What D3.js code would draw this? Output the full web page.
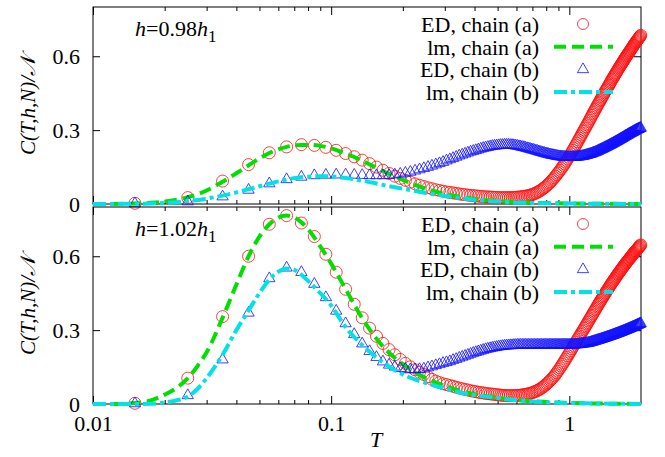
<!DOCTYPE html>
<html>
<head>
<meta charset="utf-8">
<script src="https://cdn.jsdelivr.net/npm/d3@7"></script>
<style>
body { margin: 0; background: #fff; }
</style>
</head>
<body>
<script>
const d3 = window.d3;

// temperatures of the ED points (step 0.01)
const tED = [
    0.015, 0.025, 0.035, 0.045, 0.055, 0.065, 0.075, 0.085, 0.095, 0.105,
    0.115, 0.125, 0.135, 0.145, 0.155, 0.165, 0.175, 0.185, 0.195, 0.205,
    0.215, 0.225, 0.235, 0.245, 0.255, 0.265, 0.275, 0.285, 0.295, 0.305,
    0.315, 0.325, 0.335, 0.345, 0.355, 0.365, 0.375, 0.385, 0.395, 0.405,
    0.415, 0.425, 0.435, 0.445, 0.455, 0.465, 0.475, 0.485, 0.495, 0.505,
    0.515, 0.525, 0.535, 0.545, 0.555, 0.565, 0.575, 0.585, 0.595, 0.605,
    0.615, 0.625, 0.635, 0.645, 0.655, 0.665, 0.675, 0.685, 0.695, 0.705,
    0.715, 0.725, 0.735, 0.745, 0.755, 0.765, 0.775, 0.785, 0.795, 0.805,
    0.815, 0.825, 0.835, 0.845, 0.855, 0.865, 0.875, 0.885, 0.895, 0.905,
    0.915, 0.925, 0.935, 0.945, 0.955, 0.965, 0.975, 0.985, 0.995, 1.005,
    1.015, 1.025, 1.035, 1.045, 1.055, 1.065, 1.075, 1.085, 1.095, 1.105,
    1.115, 1.125, 1.135, 1.145, 1.155, 1.165, 1.175, 1.185, 1.195, 1.205,
    1.215, 1.225, 1.235, 1.245, 1.255, 1.265, 1.275, 1.285, 1.295, 1.305,
    1.315, 1.325, 1.335, 1.345, 1.355, 1.365, 1.375, 1.385, 1.395, 1.405,
    1.415, 1.425, 1.435, 1.445, 1.455, 1.465, 1.475, 1.485, 1.495, 1.505,
    1.515, 1.525, 1.535, 1.545, 1.555, 1.565, 1.575, 1.585, 1.595, 1.605,
    1.615, 1.625, 1.635, 1.645, 1.655, 1.665, 1.675, 1.685, 1.695, 1.705,
    1.715, 1.725, 1.735, 1.745, 1.755, 1.765, 1.775, 1.785, 1.795, 1.805,
    1.815, 1.825, 1.835, 1.845, 1.855, 1.865, 1.875, 1.885, 1.895, 1.905,
    1.915, 1.925, 1.935, 1.945, 1.955, 1.965, 1.975, 1.985, 1.995
];

// h = 0.98 h1, ED chain (a)
const edA098 = [
    0.003, 0.026, 0.093, 0.16, 0.208, 0.232, 0.241, 0.238, 0.23, 0.218,
    0.205, 0.192, 0.178, 0.164, 0.15, 0.137, 0.124, 0.113, 0.104, 0.096,
    0.089, 0.082, 0.076, 0.071, 0.066, 0.062, 0.058, 0.055, 0.052,
    0.049, 0.047, 0.045, 0.043, 0.041, 0.039, 0.038, 0.036, 0.035, 0.034,
    0.033, 0.032, 0.031, 0.03, 0.029, 0.029, 0.028, 0.028, 0.027, 0.027,
    0.026, 0.026, 0.026, 0.026, 0.026, 0.026, 0.026, 0.026, 0.027, 0.027,
    0.028, 0.028, 0.029, 0.03, 0.031, 0.032, 0.033, 0.034, 0.036, 0.038,
    0.04, 0.042, 0.045, 0.048, 0.051, 0.054, 0.058, 0.062, 0.066, 0.07,
    0.075, 0.08, 0.085, 0.09, 0.096, 0.101, 0.107, 0.113, 0.119, 0.125,
    0.131, 0.137, 0.144, 0.15, 0.157, 0.163, 0.17, 0.177, 0.183, 0.19,
    0.197, 0.204, 0.211, 0.218, 0.225, 0.232, 0.239, 0.246, 0.253, 0.26,
    0.267, 0.274, 0.281, 0.288, 0.295, 0.301, 0.308, 0.314, 0.321, 0.327,
    0.334, 0.34, 0.347, 0.353, 0.36, 0.366, 0.372, 0.378, 0.384, 0.39,
    0.396, 0.402, 0.408, 0.413, 0.419, 0.424, 0.43, 0.435, 0.441, 0.446,
    0.452, 0.457, 0.462, 0.467, 0.472, 0.477, 0.482, 0.487, 0.492, 0.497,
    0.503, 0.507, 0.512, 0.516, 0.521, 0.525, 0.53, 0.534, 0.539, 0.543,
    0.548, 0.552, 0.556, 0.56, 0.564, 0.568, 0.572, 0.576, 0.58, 0.584,
    0.588, 0.592, 0.596, 0.6, 0.603, 0.607, 0.61, 0.614, 0.617, 0.621,
    0.624, 0.628, 0.631, 0.635, 0.638, 0.642, 0.645, 0.649, 0.652, 0.655,
    0.658, 0.661, 0.664, 0.667, 0.67, 0.673, 0.676, 0.679, 0.682, 0.685
];

// h = 0.98 h1, ED chain (b)
const edB098 = [
    0.002, 0.01, 0.03, 0.057, 0.083, 0.1, 0.11, 0.116, 0.118, 0.119,
    0.119, 0.118, 0.117, 0.116, 0.116, 0.116, 0.117, 0.119, 0.122, 0.126,
    0.13, 0.135, 0.14, 0.145, 0.15, 0.155, 0.16, 0.165, 0.17,
    0.176, 0.181, 0.186, 0.191, 0.196, 0.2, 0.204, 0.208, 0.212, 0.215,
    0.218, 0.221, 0.224, 0.227, 0.229, 0.231, 0.233, 0.235, 0.236, 0.237,
    0.238, 0.239, 0.239, 0.24, 0.24, 0.24, 0.239, 0.239, 0.238, 0.237,
    0.236, 0.234, 0.233, 0.231, 0.23, 0.228, 0.226, 0.225, 0.223, 0.221,
    0.22, 0.218, 0.216, 0.215, 0.213, 0.211, 0.21, 0.208, 0.207, 0.205,
    0.204, 0.203, 0.201, 0.2, 0.199, 0.198, 0.197, 0.196, 0.195, 0.194,
    0.193, 0.193, 0.192, 0.192, 0.191, 0.191, 0.19, 0.19, 0.19, 0.19,
    0.19, 0.19, 0.19, 0.19, 0.19, 0.19, 0.191, 0.191, 0.192, 0.192,
    0.193, 0.193, 0.194, 0.194, 0.195, 0.196, 0.197, 0.198, 0.199, 0.2,
    0.201, 0.202, 0.203, 0.204, 0.205, 0.207, 0.208, 0.209, 0.21, 0.212,
    0.213, 0.215, 0.216, 0.218, 0.219, 0.221, 0.222, 0.224, 0.225, 0.227,
    0.228, 0.23, 0.231, 0.233, 0.234, 0.236, 0.237, 0.239, 0.24, 0.242,
    0.243, 0.245, 0.246, 0.248, 0.249, 0.251, 0.252, 0.254, 0.255, 0.257,
    0.258, 0.26, 0.261, 0.263, 0.264, 0.266, 0.267, 0.269, 0.27, 0.272,
    0.273, 0.275, 0.276, 0.278, 0.279, 0.28, 0.282, 0.283, 0.285, 0.286,
    0.287, 0.288, 0.29, 0.291, 0.292, 0.293, 0.295, 0.296, 0.297, 0.298,
    0.3, 0.301, 0.302, 0.303, 0.304, 0.305, 0.306, 0.307, 0.308, 0.309
];

// h = 1.02 h1, ED chain (a)
const edA102 = [
    0.003, 0.105, 0.355, 0.6, 0.73, 0.765, 0.735, 0.68, 0.608, 0.535,
    0.466, 0.405, 0.35, 0.308, 0.275, 0.246, 0.221, 0.2, 0.181, 0.165,
    0.151, 0.139, 0.129, 0.12, 0.111, 0.1, 0.093, 0.087, 0.082,
    0.079, 0.075, 0.072, 0.068, 0.065, 0.062, 0.059, 0.057, 0.054, 0.052,
    0.05, 0.048, 0.046, 0.045, 0.043, 0.042, 0.041, 0.04, 0.039, 0.038,
    0.037, 0.036, 0.035, 0.035, 0.034, 0.034, 0.034, 0.034, 0.034, 0.034,
    0.035, 0.035, 0.036, 0.037, 0.038, 0.039, 0.04, 0.042, 0.043, 0.045,
    0.047, 0.05, 0.052, 0.055, 0.058, 0.061, 0.065, 0.069, 0.073, 0.077,
    0.082, 0.087, 0.092, 0.097, 0.103, 0.108, 0.114, 0.12, 0.127, 0.133,
    0.14, 0.147, 0.154, 0.161, 0.168, 0.175, 0.182, 0.189, 0.196, 0.203,
    0.21, 0.217, 0.224, 0.231, 0.238, 0.244, 0.251, 0.257, 0.264, 0.27,
    0.276, 0.283, 0.289, 0.295, 0.301, 0.307, 0.313, 0.319, 0.325, 0.331,
    0.337, 0.343, 0.349, 0.355, 0.36, 0.366, 0.372, 0.377, 0.383, 0.388,
    0.394, 0.399, 0.405, 0.41, 0.415, 0.42, 0.425, 0.43, 0.435, 0.44,
    0.445, 0.45, 0.454, 0.459, 0.463, 0.468, 0.472, 0.477, 0.481, 0.486,
    0.49, 0.494, 0.498, 0.502, 0.506, 0.51, 0.514, 0.518, 0.522, 0.526,
    0.529, 0.533, 0.537, 0.54, 0.544, 0.547, 0.551, 0.554, 0.558, 0.561,
    0.564, 0.568, 0.571, 0.574, 0.577, 0.58, 0.583, 0.586, 0.589, 0.592,
    0.595, 0.598, 0.601, 0.604, 0.607, 0.61, 0.613, 0.615, 0.618, 0.621,
    0.623, 0.626, 0.628, 0.631, 0.633, 0.636, 0.638, 0.641, 0.643, 0.646
];

// h = 1.02 h1, ED chain (b)
const edB102 = [
    0.002, 0.035, 0.18, 0.37, 0.51, 0.553, 0.535, 0.487, 0.433, 0.378,
    0.327, 0.283, 0.245, 0.214, 0.19, 0.172, 0.159, 0.151, 0.145, 0.142,
    0.14, 0.14, 0.141, 0.143, 0.148, 0.152, 0.157, 0.161, 0.166,
    0.169, 0.173, 0.178, 0.182, 0.187, 0.191, 0.195, 0.199, 0.203, 0.207,
    0.21, 0.213, 0.216, 0.219, 0.222, 0.224, 0.226, 0.228, 0.23, 0.231,
    0.233, 0.234, 0.235, 0.236, 0.237, 0.237, 0.238, 0.238, 0.239, 0.239,
    0.24, 0.24, 0.24, 0.24, 0.24, 0.24, 0.24, 0.24, 0.24, 0.24,
    0.24, 0.24, 0.24, 0.24, 0.24, 0.24, 0.24, 0.24, 0.24, 0.24,
    0.24, 0.24, 0.24, 0.24, 0.24, 0.24, 0.24, 0.24, 0.24, 0.24,
    0.24, 0.24, 0.24, 0.24, 0.24, 0.24, 0.24, 0.24, 0.24, 0.24,
    0.24, 0.24, 0.24, 0.24, 0.241, 0.241, 0.241, 0.242, 0.242, 0.242,
    0.243, 0.243, 0.244, 0.244, 0.245, 0.245, 0.246, 0.246, 0.247, 0.247,
    0.248, 0.249, 0.25, 0.251, 0.252, 0.253, 0.254, 0.255, 0.256, 0.257,
    0.258, 0.259, 0.26, 0.261, 0.262, 0.263, 0.264, 0.265, 0.266, 0.267,
    0.268, 0.269, 0.27, 0.271, 0.272, 0.273, 0.274, 0.275, 0.276, 0.277,
    0.278, 0.279, 0.28, 0.281, 0.282, 0.283, 0.284, 0.285, 0.286, 0.287,
    0.288, 0.289, 0.29, 0.291, 0.292, 0.293, 0.294, 0.295, 0.296, 0.297,
    0.298, 0.299, 0.3, 0.301, 0.302, 0.303, 0.304, 0.305, 0.306, 0.307,
    0.308, 0.309, 0.31, 0.311, 0.312, 0.313, 0.314, 0.315, 0.316, 0.317,
    0.318, 0.319, 0.32, 0.321, 0.322, 0.323, 0.324, 0.325, 0.326, 0.327
];

// temperatures of the lm curves
const tLM = [
    0.01, 0.012, 0.015, 0.0175, 0.02, 0.0225, 0.025, 0.0275, 0.03,
    0.035, 0.04, 0.045, 0.05, 0.055, 0.06, 0.065, 0.07, 0.075, 0.08,
    0.09, 0.1, 0.11, 0.12, 0.13, 0.14, 0.15, 0.17, 0.2, 0.25,
    0.3, 0.35, 0.4, 0.5, 0.6, 0.7, 0.8, 1.0, 1.3, 2.0
];
const lmA098 = [
    0, 0, 0.002, 0.005, 0.01, 0.018, 0.028, 0.04, 0.055,
    0.09, 0.125, 0.157, 0.185, 0.207, 0.222, 0.232, 0.238, 0.24, 0.24,
    0.236, 0.226, 0.212, 0.198, 0.183, 0.168, 0.154, 0.128, 0.098, 0.062,
    0.041, 0.029, 0.021, 0.012, 0.008, 0.005, 0.004, 0.002, 0.001, 0
];
const lmB098 = [
    0, 0, 0.001, 0.002, 0.004, 0.007, 0.012, 0.016, 0.022,
    0.034, 0.047, 0.06, 0.072, 0.083, 0.092, 0.099, 0.105, 0.109, 0.111,
    0.113, 0.112, 0.108, 0.103, 0.097, 0.092, 0.086, 0.075, 0.062, 0.045,
    0.033, 0.024, 0.017, 0.01, 0.006, 0.004, 0.003, 0.002, 0.001, 0
];
const lmA102 = [
    0, 0, 0.004, 0.015, 0.038, 0.066, 0.105, 0.155, 0.21,
    0.35, 0.485, 0.6, 0.68, 0.73, 0.757, 0.765, 0.758, 0.738, 0.71,
    0.64, 0.57, 0.5, 0.435, 0.375, 0.325, 0.283, 0.22, 0.162, 0.105,
    0.074, 0.053, 0.04, 0.025, 0.016, 0.011, 0.008, 0.004, 0.002, 0
];
const lmB102 = [
    0, 0, 0, 0.001, 0.006, 0.015, 0.03, 0.062, 0.105,
    0.2, 0.3, 0.38, 0.45, 0.505, 0.537, 0.55, 0.545, 0.525, 0.5,
    0.45, 0.4, 0.34, 0.29, 0.255, 0.225, 0.2, 0.16, 0.12, 0.085,
    0.063, 0.046, 0.036, 0.024, 0.015, 0.01, 0.007, 0.004, 0.002, 0
];

const xMajorTicks = [0.01, 0.1, 1];
const xMinorTicks = [0.02, 0.03, 0.04, 0.05, 0.06, 0.07, 0.08, 0.09,
                     0.2, 0.3, 0.4, 0.5, 0.6, 0.7, 0.8, 0.9];
const yTicks = [0, 0.3, 0.6];
const legendLabels = ["ED, chain (a)", "lm, chain (a)", "ED, chain (b)", "lm, chain (b)"];
const fieldLabels = ["0.98", "1.02"];

const margin = {top: 7, right: 24, bottom: 53, left: 93};
const W = 665, H = 457;
const panelHeight = 197;
const panelGap = 3;

const red = "#ff1010", blue = "#1010ff", green = "#00e000", cyan = "#00e2e8";
const serif = "Liberation Serif";
const fontSize = 22;

const svg = d3.select("body").append("svg")
    .attr("width", W)
    .attr("height", H)
    .attr("font-family", serif);

const x = d3.scaleLog()
    .domain([0.01, 2])
    .range([margin.left, W - margin.right]);

const lineGen = y => d3.line()
    .x(d => x(d[0]))
    .y(d => y(d[1]))
    .curve(d3.curveMonotoneX);

function drawPanel(i, edA, edB, lmA, lmB) {
    const top = margin.top + i * (panelHeight + panelGap);
    const bottom = top + panelHeight;
    const showX = i === 1;
    const y = d3.scaleLinear().domain([0, 0.8]).range([bottom, top]);
    const g = svg.append("g");

    // ticks, all pointing inward
    g.append("g").attr("transform", `translate(0,${bottom})`)
        .call(d3.axisBottom(x).tickValues(xMajorTicks).tickSize(-8).tickPadding(11)
            .tickFormat(showX ? d3.format("~g") : () => ""));
    g.append("g").attr("transform", `translate(0,${bottom})`)
        .call(d3.axisBottom(x).tickValues(xMinorTicks).tickSize(-4).tickFormat(() => ""));
    g.append("g").attr("transform", `translate(0,${top})`)
        .call(d3.axisTop(x).tickValues(xMajorTicks).tickSize(-8).tickFormat(() => ""));
    g.append("g").attr("transform", `translate(0,${top})`)
        .call(d3.axisTop(x).tickValues(xMinorTicks).tickSize(-4).tickFormat(() => ""));
    g.append("g").attr("transform", `translate(${margin.left},0)`)
        .call(d3.axisLeft(y).tickValues(yTicks).tickSize(-7).tickPadding(13)
            .tickFormat(d => d === 0 ? "0" : d.toFixed(1)));
    g.append("g").attr("transform", `translate(${W - margin.right},0)`)
        .call(d3.axisRight(y).tickValues(yTicks).tickSize(-7).tickFormat(() => ""));
    g.selectAll(".domain").remove();
    g.selectAll("g").attr("font-family", serif);
    g.selectAll(".tick line").attr("stroke", "#000");
    g.selectAll(".tick text")
        .attr("font-size", fontSize)
        .attr("fill", "#000");

    g.append("rect")
        .attr("x", margin.left).attr("y", top)
        .attr("width", W - margin.left - margin.right).attr("height", panelHeight)
        .attr("fill", "none").attr("stroke", "#000").attr("stroke-width", 1);

    // ED chain (a)
    g.append("g").selectAll("circle")
        .data(d3.zip(tED, edA))
        .join("circle")
            .attr("cx", d => x(d[0]))
            .attr("cy", d => y(d[1]))
            .attr("r", 6)
            .attr("fill", "none")
            .attr("stroke", red)
            .attr("stroke-width", 0.8);

    // lm chain (a)
    g.append("path")
        .datum(d3.zip(tLM, lmA))
        .attr("d", lineGen(y))
        .attr("fill", "none")
        .attr("stroke", green)
        .attr("stroke-width", 4)
        .attr("stroke-dasharray", "12,6");

    // ED chain (b)
    g.append("g").selectAll("path")
        .data(d3.zip(tED, edB))
        .join("path")
            .attr("transform", d => `translate(${x(d[0])},${y(d[1])})`)
            .attr("d", d3.symbol(d3.symbolTriangle, 55))
            .attr("fill", "none")
            .attr("stroke", blue)
            .attr("stroke-width", 0.8);

    // lm chain (b)
    g.append("path")
        .datum(d3.zip(tLM, lmB))
        .attr("d", lineGen(y))
        .attr("fill", "none")
        .attr("stroke", cyan)
        .attr("stroke-width", 4)
        .attr("stroke-dasharray", "13,4,4,4");

    // key
    const key = g.append("g").attr("transform", `translate(0,${top})`);
    legendLabels.forEach((label, k) => {
        const base = 25 + k * 22.7;
        key.append("text")
            .attr("x", 539).attr("y", base)
            .attr("text-anchor", "end")
            .attr("font-size", fontSize)
            .text(label);
        const cy = base - 8;
        if (k === 0) {
            key.append("circle").attr("cx", 583).attr("cy", cy).attr("r", 5.5)
                .attr("fill", "none").attr("stroke", red).attr("stroke-width", 0.8);
        } else if (k === 2) {
            key.append("path").attr("transform", `translate(583,${cy})`)
                .attr("d", d3.symbol(d3.symbolTriangle, 55))
                .attr("fill", "none").attr("stroke", blue).attr("stroke-width", 0.8);
        } else {
            key.append("line").attr("x1", 554).attr("x2", 613).attr("y1", cy).attr("y2", cy)
                .attr("stroke", k === 1 ? green : cyan).attr("stroke-width", 4)
                .attr("stroke-dasharray", k === 1 ? "12,6" : "13,4,4,4");
        }
    });

    // field label
    const lab = g.append("text")
        .attr("x", 135).attr("y", top + 29)
        .attr("font-size", fontSize);
    lab.append("tspan").attr("font-style", "italic").text("h");
    lab.append("tspan").text("=" + fieldLabels[i]);
    lab.append("tspan").attr("font-style", "italic").text("h");
    lab.append("tspan").attr("font-size", 17).attr("dy", 6).text("1");

    // y label
    const yl = g.append("text")
        .attr("transform", `translate(35,${top + panelHeight / 2}) rotate(-90)`)
        .attr("text-anchor", "middle")
        .attr("font-size", 21)
        .attr("font-style", "italic");
    yl.append("tspan").text("C(T,h,N)/");
    yl.append("tspan").text("\u{1D4A9}");
}

drawPanel(0, edA098, edB098, lmA098, lmB098);
drawPanel(1, edA102, edB102, lmA102, lmB102);

svg.append("text")
    .attr("x", 376).attr("y", 447)
    .attr("text-anchor", "middle")
    .attr("font-size", fontSize)
    .attr("font-style", "italic")
    .text("T");
</script>
</body>
</html>
